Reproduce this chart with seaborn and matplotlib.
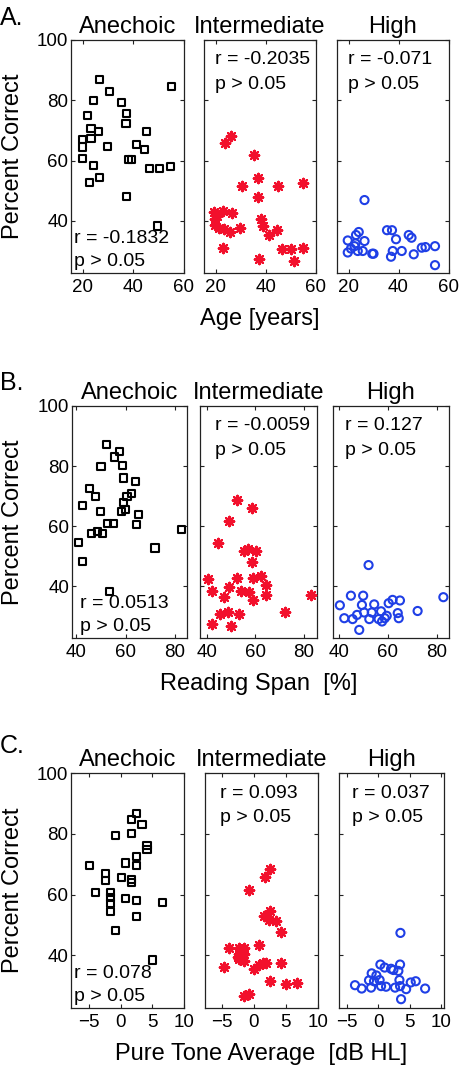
import matplotlib
matplotlib.use("Agg")
import matplotlib.pyplot as plt
import seaborn as sns
import pandas as pd

# ---------------- data ----------------
conditions = ["Anechoic", "Intermediate", "High"]
row_labels = ["A.", "B.", "C."]
x_labels = ["Age [years]", "Reading Span  [%]", "Pure Tone Average  [dB HL]"]
x_ticks = [[20, 40, 60], [40, 60, 80], [-5, 0, 5, 10]]
y_ticks = [40, 60, 80, 100]

# Row A: Age
age_an_x = [26.5, 30.7, 24.2, 35.5, 55.1, 22.0, 37.3, 37.1, 23.3, 26.1, 45.3, 20.1, 23.3, 20.1,
            29.9, 41.3, 44.5, 19.9, 38.1, 39.2, 24.4, 46.4, 50.5, 54.7, 26.8, 22.8, 37.3, 49.5]
age_an_y = [86.9, 82.8, 80.0, 79.4, 84.7, 74.8, 75.7, 72.3, 70.5, 69.6, 69.5, 66.9, 67.2, 64.5,
            64.8, 65.3, 63.7, 60.7, 60.3, 60.5, 58.5, 57.3, 57.3, 58.0, 54.5, 52.8, 48.1, 38.3]
age_in_x = [26.2, 23.6, 35.3, 36.9, 30.6, 44.9, 54.9, 37.0, 19.3, 22.9, 26.5, 19.6, 38.0, 19.8,
            38.9, 21.2, 29.6, 23.3, 25.6, 44.6, 41.1, 22.9, 46.3, 49.9, 54.9, 37.3, 51.1, 20.5]
age_in_y = [68.3, 65.8, 61.7, 54.3, 51.4, 51.6, 52.6, 47.9, 42.8, 43.3, 42.5, 40.5, 40.5, 38.6,
            38.3, 37.5, 37.7, 37.2, 36.4, 37.0, 35.3, 31.1, 30.7, 30.5, 31.1, 27.4, 26.7, 41.5]
age_hi_x = [26.4, 24.1, 23.0, 35.4, 37.4, 39.0, 44.1, 45.2, 19.7, 26.4, 22.4, 54.6, 49.3, 50.8,
            19.7, 23.7, 25.7, 30.0, 37.7, 41.3, 46.1, 37.0, 21.0, 54.6, 22.8, 29.5]
age_hi_y = [46.9, 36.3, 35.3, 36.9, 36.9, 33.9, 35.3, 34.4, 33.5, 33.3, 31.6, 31.6, 31.1, 31.3,
            29.5, 30.0, 30.0, 29.1, 30.0, 30.0, 28.9, 28.1, 30.8, 25.3, 32.5, 29.1]

# Row B: Reading span
rs_an_x = [52.5, 57.4, 55.5, 50.1, 58.9, 59.0, 64.1, 45.3, 47.7, 62.5, 60.6, 59.3, 42.8, 49.8,
           58.2, 59.9, 65.2, 52.8, 55.2, 64.5, 46.1, 48.8, 50.6, 82.7, 40.9, 71.9, 42.8, 53.7]
rs_an_y = [87.1, 84.9, 83.0, 79.7, 80.2, 76.0, 74.9, 72.6, 69.8, 70.7, 69.9, 67.7, 66.8, 64.7,
           64.9, 65.4, 63.8, 60.8, 60.8, 60.4, 57.4, 58.2, 57.4, 58.7, 54.6, 52.7, 48.1, 38.3]
rs_in_x = [52.3, 58.6, 49.3, 44.7, 55.2, 56.9, 60.3, 58.6, 40.5, 52.5, 58.9, 62.3, 64.4, 42.2,
           49.3, 54.1, 57.5, 64.4, 82.9, 47.1, 59.2, 45.5, 48.6, 53.2, 72.1, 42.1, 50.0]
rs_in_y = [68.6, 65.9, 61.8, 54.3, 51.6, 52.4, 51.8, 47.9, 42.4, 42.7, 42.7, 43.4, 40.4, 38.2,
           39.7, 38.2, 37.9, 37.1, 37.1, 36.3, 35.2, 30.8, 31.2, 30.6, 31.2, 27.4, 26.6]
rs_hi_x = [52.2, 45.0, 50.0, 82.7, 62.0, 65.0, 60.4, 40.5, 49.5, 54.5, 72.2, 42.3, 45.7, 47.5,
           52.5, 50.4, 56.3, 57.3, 57.7, 58.8, 59.6, 64.1, 64.5, 48.4, 53.5]
rs_hi_y = [47.0, 36.8, 36.8, 36.3, 35.4, 35.2, 34.3, 33.6, 33.7, 33.9, 31.7, 29.3, 29.0, 30.4,
           29.0, 31.2, 29.0, 31.6, 28.2, 29.3, 30.1, 31.0, 29.3, 25.4, 31.2]

# Row C: Pure tone average
pta_an_x = [2.55, 1.67, 3.39, -0.78, 1.67, 4.17, 4.17, 2.55, 2.55, 0.83, -4.9, -2.4, -2.4, 0.1,
            1.67, 1.67, -4.0, -1.56, -1.56, 0.83, 2.55, 6.6, -1.56, -1.56, 2.55, -0.78, 5.05]
pta_an_y = [86.8, 84.8, 83.0, 79.4, 80.0, 76.1, 74.8, 72.4, 69.6, 70.4, 69.7, 66.9, 64.7, 65.5,
            65.1, 63.9, 60.7, 60.8, 58.9, 58.6, 58.0, 57.4, 57.0, 54.5, 52.9, 48.3, 38.5]
pta_in_x = [2.55, 1.77, -0.78, 2.55, 1.62, 2.4, 3.42, 4.2, -3.93, -2.27, -1.6, 0.84, -2.27, -1.6,
            -2.27, -1.6, -4.7, 0.06, 0.84, 1.51, 1.87, 4.2, 2.55, 4.98, 6.69, -1.5, -0.72, -2.45]
pta_in_y = [68.4, 65.8, 61.6, 54.5, 52.9, 51.8, 51.2, 47.8, 42.5, 42.5, 42.5, 43.4, 40.3, 40.3,
            38.7, 38.2, 36.3, 35.6, 37.0, 37.6, 37.6, 37.6, 31.6, 30.5, 31.0, 26.7, 27.2, 39.5]
pta_hi_x = [3.53, 0.32, 2.03, 3.47, 2.4, -1.07, -0.32, 3.2, -1.5, 3.37, -0.7, -3.74, -2.67, -1.17,
            0.43, 1.23, 2.67, 4.44, 5.18, 5.98, 7.48, 3.63, 0.2, 3.47, 1.0]
pta_hi_y = [47.4, 37.0, 35.6, 37.0, 35.2, 34.1, 33.4, 34.9, 31.8, 31.9, 31.5, 30.2, 29.1, 29.4,
            29.9, 29.7, 29.4, 28.9, 31.1, 31.5, 29.1, 25.6, 31.9, 29.9, 36.0]

stats_r = [["r = -0.1832", "r = -0.2035", "r = -0.071"],
           ["r = 0.0513", "r = -0.0059", "r = 0.127"],
           ["r = 0.078", "r = 0.093", "r = 0.037"]]
stats_p = "p > 0.05"

data = [[(age_an_x, age_an_y), (age_in_x, age_in_y), (age_hi_x, age_hi_y)],
        [(rs_an_x, rs_an_y), (rs_in_x, rs_in_y), (rs_hi_x, rs_hi_y)],
        [(pta_an_x, pta_an_y), (pta_in_x, pta_in_y), (pta_hi_x, pta_hi_y)]]

# ---------------- layout / style ----------------
sns.set_style("ticks")
plt.rcParams["font.family"] = ["Liberation Sans", "DejaVu Sans"]
plt.rcParams["text.color"] = "black"
plt.rcParams["xtick.color"] = "black"
plt.rcParams["ytick.color"] = "black"
plt.rcParams["axes.labelcolor"] = "black"

W, H = 462, 1066
fig = plt.figure(figsize=(W / 100, H / 100), dpi=100)

# axes boxes in pixels: (left, right, top, bottom)
boxes = [[(71, 184, 40, 273), (204, 316, 40, 273), (337, 449, 40, 273)],
         [(72, 187, 406, 638), (200, 317, 406, 638), (333, 449, 406, 638)],
         [(71, 184, 773, 1008), (205, 318, 773, 1008), (339, 444, 773, 1008)]]
xlims = [[(15.4, 60.0), (15.4, 60.0), (15.4, 60.2)],
         [(38.4, 84.8), (37.2, 85.4), (37.7, 85.0)],
         [(-7.8, 10.0), (-7.6, 10.0), (-6.3, 10.5)]]
ylim = (22.7, 100)

styles = [dict(marker="s", s=26, facecolor="none", edgecolor="black", linewidth=1.5),
          dict(marker=(8, 2, 0), s=46, facecolor="#f2102c", edgecolor="#f2102c", linewidth=1.6),
          dict(marker="o", s=34, facecolor="none", edgecolor="#1f3fe6", linewidth=1.5)]

text_pos = [[(0.027, "bottom"), (0.10, "top"), (0.10, "top")],
            [(0.07, "bottom"), (0.13, "top"), (0.10, "top")],
            [(0.027, "bottom"), (0.13, "top"), (0.12, "top")]]

panel_label_base = [25, 390, 753]
frame_col = "#222222"
FS_TICK = 13.5
FS_STAT = 14
FS_BIG = 17

for r in range(3):
    for c in range(3):
        l, rr, t, b = boxes[r][c]
        ax = fig.add_axes([l / W, 1 - b / H, (rr - l) / W, (b - t) / H])
        xs, ys = data[r][c]
        df = pd.DataFrame({"x": xs, "y": ys})
        sns.scatterplot(data=df, x="x", y="y", ax=ax, legend=False, zorder=3, **styles[c])
        ax.set_xlim(*xlims[r][c])
        ax.set_ylim(*ylim)
        ax.set_xticks(x_ticks[r])
        ax.set_yticks(y_ticks)
        ax.set_xlabel("")
        ax.set_ylabel("")
        ax.tick_params(direction="in", length=3, width=0.8, top=True, right=True,
                       labelsize=FS_TICK, color=frame_col, labelcolor="black", pad=4)
        ax.tick_params(axis="y", pad=2)
        if c > 0:
            ax.set_yticklabels([])
        for sp in ax.spines.values():
            sp.set_linewidth(0.9)
            sp.set_color(frame_col)
        ax.set_title(conditions[c], fontsize=FS_BIG, pad=5, color="black")
        tx, where = text_pos[r][c]
        if where == "top":
            ax.text(tx, 0.895, stats_r[r][c], transform=ax.transAxes, fontsize=FS_STAT, va="baseline")
            ax.text(tx, 0.79, stats_p, transform=ax.transAxes, fontsize=FS_STAT, va="baseline")
        else:
            ax.text(tx, 0.128, stats_r[r][c], transform=ax.transAxes, fontsize=FS_STAT, va="baseline")
            ax.text(tx, 0.03, stats_p, transform=ax.transAxes, fontsize=FS_STAT, va="baseline")
        if c == 1:
            fig.text(((l + rr) / 2) / W, 1 - (b + 52) / H, x_labels[r], ha="center",
                     va="baseline", fontsize=FS_BIG)
    t_row = boxes[r][0][2]
    b_row = boxes[r][0][3]
    fig.text(2 / W, 1 - ((t_row + b_row) / 2) / H, "Percent Correct", rotation=90,
             ha="left", va="center", fontsize=FS_BIG)
    fig.text(0.0, 1 - panel_label_base[r] / H, row_labels[r], ha="left", va="baseline",
             fontsize=18)

fig.savefig("out.png", dpi=100)
